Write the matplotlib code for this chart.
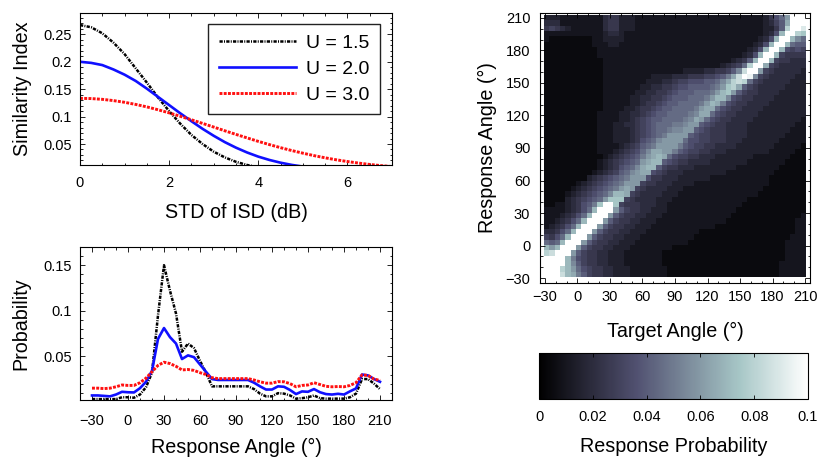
import matplotlib
matplotlib.use("Agg")
import matplotlib.pyplot as plt
import numpy as np
from matplotlib.ticker import MultipleLocator, FuncFormatter

plt.rcParams["font.family"] = ["Liberation Sans", "DejaVu Sans"]

# --- similarity index vs. spread of interaural spectral differences ---
std_isd = np.arange(0, 7.01, 0.25)
sim_u15 = [0.267, 0.263, 0.252, 0.235, 0.214, 0.188, 0.162, 0.135, 0.110, 0.087,
           0.0665, 0.050, 0.036, 0.0255, 0.0175, 0.0117, 0.0076, 0.0048, 0.003, 0.0018,
           0.001, 0.0006, 0.0003, 0.0002, 0.0001, 0.0001, 0.0, 0.0, 0.0]
sim_u20 = [0.200, 0.198, 0.194, 0.186, 0.1765, 0.165, 0.151, 0.136, 0.121, 0.106,
           0.0916, 0.0777, 0.065, 0.0534, 0.0433, 0.0345, 0.027, 0.0209, 0.0159, 0.0119,
           0.0088, 0.0064, 0.0046, 0.0032, 0.0022, 0.0015, 0.001, 0.0007, 0.0004]
sim_u30 = [0.1333, 0.1329, 0.1315, 0.1292, 0.1261, 0.1222, 0.1177, 0.1125, 0.1068, 0.1006,
           0.0942, 0.0876, 0.0809, 0.0741, 0.0675, 0.0611, 0.0548, 0.0489, 0.0433, 0.0381,
           0.0333, 0.0288, 0.0248, 0.0212, 0.018, 0.0152, 0.0127, 0.0106, 0.0088]
u_labels = ["U = 1.5", "U = 2.0", "U = 3.0"]

# --- response distribution for a 30 deg target ---
resp_angle = list(range(-30, 215, 5))
prob_u15 = [0.003, 0.003, 0.003, 0.003, 0.003, 0.005, 0.005, 0.0045, 0.008, 0.016,
            0.032, 0.095, 0.150, 0.122, 0.097, 0.055, 0.064, 0.059, 0.045, 0.032,
            0.017, 0.017, 0.017, 0.017, 0.017, 0.017, 0.017, 0.014, 0.009, 0.006,
            0.006, 0.0095, 0.009, 0.007, 0.0035, 0.004, 0.005, 0.007, 0.004, 0.0035,
            0.0035, 0.0035, 0.0035, 0.005, 0.009, 0.025, 0.025, 0.020, 0.014]
prob_u20 = [0.007, 0.007, 0.0065, 0.006, 0.008, 0.011, 0.0105, 0.0103, 0.015, 0.022,
            0.034, 0.069, 0.081, 0.071, 0.064, 0.047, 0.051, 0.049, 0.041, 0.033,
            0.025, 0.024, 0.024, 0.024, 0.024, 0.024, 0.024, 0.021, 0.017, 0.0135,
            0.0135, 0.017, 0.0165, 0.013, 0.0085, 0.0114, 0.011, 0.014, 0.0105, 0.0085,
            0.008, 0.0088, 0.008, 0.0115, 0.0147, 0.030, 0.029, 0.025, 0.022]
prob_u30 = [0.015, 0.015, 0.0145, 0.015, 0.0165, 0.0185, 0.018, 0.018, 0.021, 0.026,
            0.033, 0.040, 0.0435, 0.042, 0.039, 0.035, 0.0355, 0.0345, 0.032, 0.030,
            0.0265, 0.0255, 0.0255, 0.0255, 0.0255, 0.0255, 0.0255, 0.024, 0.022, 0.0205,
            0.0205, 0.0222, 0.022, 0.020, 0.0165, 0.018, 0.0185, 0.021, 0.019, 0.017,
            0.0165, 0.0168, 0.0165, 0.018, 0.021, 0.0295, 0.029, 0.025, 0.0235]

# --- response probability map, rows: response 210 -> -30, cols: target -30 -> 210 ---
# one character per 5 deg cell, level index into LEVELS, step 0.005
LEVELS = "0123456789abcdefghijk"
prob_map_rows = [
    "3332222 2222455 3332222 2222222 2222222 2222223 579ckkk",
    "4442222 2222455 3332222 2222222 2222222 2222223 468dkkk",
    "5654322 2222455 3332222 2222222 2222222 2222223 358gkki",
    "2222222 2222344 3222222 2222222 2222222 2222223 47ekkgf",
    "2111111 1122333 3222222 2222222 2222222 2222234 7ekkeb9",
    "1111111 1122233 2222222 2222222 2222222 2222347 ekke988",
    "1111111 1112222 2222222 2222222 2222222 222347e kke7676",
    "1111111 1112222 2222222 2222222 2222222 22347ek ke65555",
    "1111111 1111222 2222222 2222222 2222222 3458ekk e655444",
    "1111111 1111222 2222222 2222222 2222234 569gkkd 6544444",
    "1111111 1111222 2222222 2222233 3344556 8bhkkc6 5444443",
    "1111111 1111222 2222223 3334445 556678a dhkjb65 4444433",
    "1111111 1111222 2222233 3445667 77889bd ghg9654 4444333",
    "1111111 1111222 2222334 4556778 8889acf gd86544 4443333",
    "1111111 1111222 2223344 5567888 999acef c865544 4433333",
    "1111111 1111222 2233445 5678889 99aceeb 7655444 4333333",
    "1111111 1111222 2233455 6788999 9aceda7 6554444 3333333",
    "1111111 1111222 2334556 7889999 acdd976 5544443 3333333",
    "1111111 1112222 3344567 889999a bdd9765 5444433 3333333",
    "1111111 1112222 3345678 89999ab dc97655 4444333 3333332",
    "1111111 1112223 3445678 999aabc c876554 4443333 3333322",
    "1111111 1112223 3345678 99abbcc 8765554 4443333 3333222",
    "1111111 1112223 3345678 9acccc8 7665554 4443333 3332222",
    "1111111 1112223 3345789 bcccc97 7665554 4433333 3322222",
    "1111111 1112222 345689a cccca87 6655444 4333333 3222221",
    "1111111 1112223 45679bd dcca876 6554443 3333333 2222211",
    "1111111 1111234 5678acd ed97665 5444333 3333222 2222111",
    "1111111 1112345 6789cde e876554 4443333 3332222 2221111",
    "1111111 1112345 789bdee 8655444 3333333 3222222 2211111",
    "1111111 1123456 89bcdd7 6544433 3333332 2222222 2111111",
    "1111111 1345678 9accc75 5444333 3332222 2222222 1111111",
    "1111112 3456789 accc655 4443333 2222222 2222222 1111111",
    "1111123 456789a cdc6544 4433322 2222222 2222221 1111111",
    "1111234 56789be ed65444 4333222 2222222 2222211 1111111",
    "1111345 6789cff f654444 3332222 2222222 2221111 1111111",
    "1122345 78afkkf 6555444 3322222 2222222 2211111 1111111",
    "2222345 79ekkkc 8655443 3322222 2222222 2111111 1111111",
    "2223457 9ekkkc8 6554433 3222222 2222222 1111111 1111112",
    "2234579 ekkkc86 5544333 2222222 2222221 1111111 1111122",
    "234579e kkkc865 5443332 2222222 2222111 1111111 1111122",
    "44579ek kkc8655 4433322 2222222 2111111 1111111 1111122",
    "6579ekk kc86554 4333222 2222222 1111111 1111111 1111222",
    "989ekkk c865544 3332222 2222221 1111111 1111111 1112222",
    "ecekkkc 8655443 3322222 2221111 1111111 1111111 1112222",
    "ghkkkc8 6554433 3222222 2111111 1111111 1111111 1112222",
    "kkkkea7 6554433 3222222 2111111 1111111 1111111 1112222",
    "kkkkeb8 6554433 3222222 2111111 1111111 1111111 1122222",
    "kkkgec9 7655443 3322222 2211111 1111111 1111111 1122222",
    "kkkheda 8655443 3322222 2211111 1111111 1111111 1122222",
]
cbar_ticks = [0, 0.02, 0.04, 0.06, 0.08, 0.1]
angle_ticks = list(range(-30, 211, 30))

prob_map = np.array([[LEVELS.index(ch) * 0.005 for ch in row.replace(" ", "")]
                     for row in prob_map_rows])
if prob_map.shape != (49, 49):
    raise ValueError(f"bad map shape {prob_map.shape}")

W, H = 819, 459
fig = plt.figure(figsize=(W / 100, H / 100), dpi=100)
fig.patch.set_facecolor("white")


def px_axes(x0, y0, x1, y1):
    return fig.add_axes([x0 / W, 1 - y1 / H, (x1 - x0) / W, (y1 - y0) / H])


def frame(ax, xpad, ypad):
    ax.tick_params(which="both", direction="in", top=True, right=True,
                   labelsize=10.5, width=0.6, colors="black")
    ax.tick_params(which="major", length=3.5)
    ax.tick_params(which="minor", length=1.8)
    ax.tick_params(axis="x", which="both", pad=xpad)
    ax.tick_params(axis="y", which="both", pad=ypad)
    for s in ax.spines.values():
        s.set_linewidth(0.8)


trim = FuncFormatter(lambda v, _: f"{v:g}")
styles = [
    dict(color="black", lw=1.8, ls=(0, (1.3, 0.5, 0.4, 0.5))),
    dict(color="#1010ff", lw=1.9, ls="-"),
    dict(color="#ff1010", lw=2.1, ls=(0, (1.0, 0.45))),
]

# top left: similarity index
ax1 = px_axes(80, 13, 392, 165)
for ys, st, lab in zip([sim_u15, sim_u20, sim_u30], styles, u_labels):
    ax1.plot(std_isd, ys, label=lab, **st)
ax1.set_xlim(0, 7)
ax1.set_ylim(0.0117, 0.289)
ax1.xaxis.set_major_locator(MultipleLocator(2))
ax1.xaxis.set_minor_locator(MultipleLocator(0.5))
ax1.yaxis.set_major_locator(MultipleLocator(0.05))
ax1.yaxis.set_minor_locator(MultipleLocator(0.01))
ax1.xaxis.set_major_formatter(trim)
ax1.yaxis.set_major_formatter(trim)
frame(ax1, 8, 6)
ax1.set_xlabel("STD of ISD (dB)", fontsize=14.2, labelpad=9)
ax1.set_ylabel("Similarity Index", fontsize=14.2, labelpad=8)
leg = ax1.legend(loc="upper right", bbox_to_anchor=(0.962, 0.928), borderaxespad=0,
                 fontsize=14, handlelength=4.0, handletextpad=0.5, labelspacing=0.42,
                 borderpad=0.55, fancybox=False, framealpha=1, edgecolor="#222222")
leg.get_frame().set_linewidth(1.0)

# bottom left: response distribution
ax2 = px_axes(80, 247, 392, 400)
for ys, st in zip([prob_u15, prob_u20, prob_u30], styles):
    ax2.plot(resp_angle, ys, **st)
ax2.set_xlim(-40, 220)
ax2.set_ylim(0.002, 0.17)
ax2.set_xticks(angle_ticks)
ax2.xaxis.set_minor_locator(MultipleLocator(10))
ax2.yaxis.set_major_locator(MultipleLocator(0.05))
ax2.yaxis.set_minor_locator(MultipleLocator(0.01))
ax2.yaxis.set_major_formatter(trim)
frame(ax2, 10, 6)
ax2.set_xlabel("Response Angle (°)", fontsize=14.2, labelpad=7)
ax2.set_ylabel("Probability", fontsize=14.2, labelpad=9)

# right: response probability map
ax3 = px_axes(540, 13, 810, 283)
im = ax3.imshow(prob_map, cmap="bone", vmin=0, vmax=0.1, origin="upper",
                extent=(-31, 210.5, -29.5, 212), aspect="auto", interpolation="nearest")
ax3.set_xlim(-34.6, 214.6)
ax3.set_ylim(-34.6, 214.6)
ax3.set_xticks(angle_ticks)
ax3.set_yticks(angle_ticks)
ax3.xaxis.set_minor_locator(MultipleLocator(10))
ax3.yaxis.set_minor_locator(MultipleLocator(10))
frame(ax3, 5, 7)
ax3.set_xlabel("Target Angle (°)", fontsize=14.2, labelpad=13)
ax3.set_ylabel("Response Angle (°)", fontsize=14.2, labelpad=6)

# colorbar
cax = px_axes(539, 353, 808, 399)
cb = fig.colorbar(im, cax=cax, orientation="horizontal", ticks=cbar_ticks)
cb.ax.xaxis.set_major_formatter(trim)
cb.ax.tick_params(direction="in", top=True, bottom=True, length=3, width=0.6,
                  labelsize=10.5, pad=8)
cb.outline.set_linewidth(0.8)
cb.set_label("Response Probability", fontsize=14.2, labelpad=9)

fig.savefig("out.png", dpi=100)
